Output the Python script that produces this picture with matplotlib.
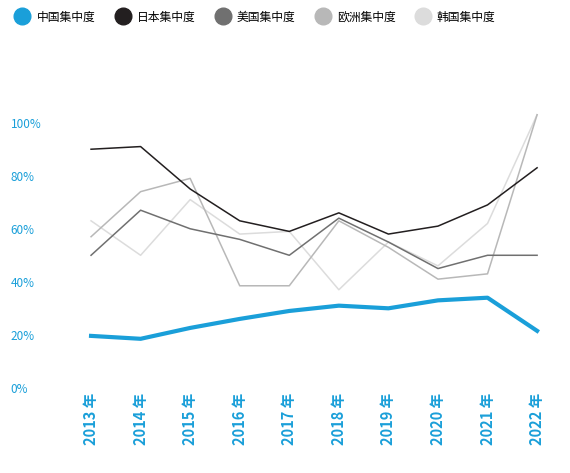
import matplotlib.pyplot as plt
from matplotlib.lines import Line2D

plt.rcParams['font.family'] = ['Noto Sans CJK SC', 'DejaVu Sans']

years = ["2013 年", "2014 年", "2015 年", "2016 年", "2017 年",
         "2018 年", "2019 年", "2020 年", "2021 年", "2022 年"]
china = [19.6, 18.5, 22.6, 26, 29, 31, 30, 33, 34, 21.5]
japan = [90, 91, 75, 63, 59, 66, 58, 61, 69, 83]
usa = [50, 67, 60, 56, 50, 64, 55, 45, 50, 50]
europe = [57, 74, 79, 38.5, 38.5, 63, 53, 41, 43, 103]
korea = [63, 50, 71, 58, 59, 37, 55, 46, 62, 103]

names = ["中国集中度", "日本集中度", "美国集中度", "欧洲集中度", "韩国集中度"]
colors = ["#1a9fd9", "#231f20", "#707070", "#b8b8b8", "#dcdcdc"]
series = [china, japan, usa, europe, korea]
widths = [3, 1.1, 1.1, 1.1, 1.1]

fig = plt.figure(figsize=(5.70, 4.73), dpi=100)
ax = fig.add_axes([0.138, 0.18, 0.826, 0.583])

x = range(len(years))
# draw lighter series first so darker ones sit on top
for i in [4, 3, 2, 1, 0]:
    ax.plot(x, series[i], color=colors[i], lw=widths[i], zorder=3 + (4 - i))

ax.set_ylim(0, 104)
ax.set_xlim(-0.25, 9.25)
ax.set_yticks([0, 20, 40, 60, 80, 100])
ax.set_yticklabels([f"{v}%" for v in [0, 20, 40, 60, 80, 100]],
                   color="#1a9fd9", fontsize=8.5)
ax.set_xticks(list(x))
ax.set_xticklabels(years, rotation=90, color="#1a9fd9", fontsize=10.5, fontweight="bold")
ax.tick_params(length=0)
for s in ax.spines.values():
    s.set_visible(False)
for lab in ax.get_yticklabels():
    lab.set_horizontalalignment("left")
ax.tick_params(axis="y", pad=49)

handles = [Line2D([], [], marker="o", ls="", color=c, markersize=12) for c in colors]
fig.legend(handles, names, loc="upper left", bbox_to_anchor=(0.0, 1.0), ncol=5,
           frameon=False, fontsize=8.5, handletextpad=0.2, columnspacing=1.3)

fig.savefig("out.png", dpi=100)
